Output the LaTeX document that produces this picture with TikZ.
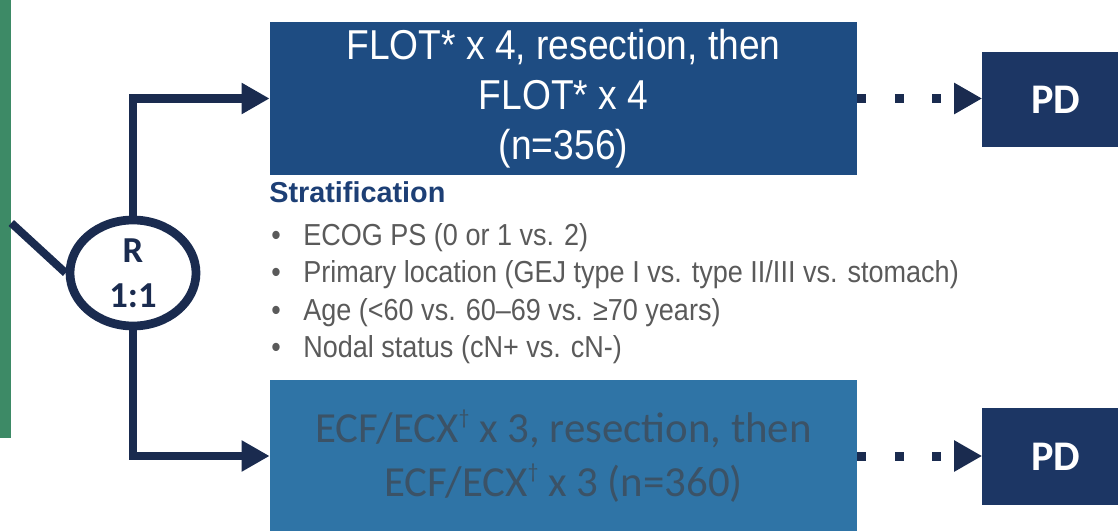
\documentclass[tikz,border=0pt]{standalone}
\usepackage{fontspec}
\setmainfont{Liberation Sans}
\newfontfamily\narrowfont{Liberation Sans}[FakeStretch=0.89]
\newfontfamily\calfont{Carlito}
\usetikzlibrary{shapes.geometric,arrows.meta}

\definecolor{navy}{HTML}{1A2B4F}
\definecolor{armgreen}{HTML}{3D8A66}
\definecolor{flotblue}{HTML}{1E4C82}
\definecolor{ecfblue}{HTML}{2F74A6}
\definecolor{ecftext}{HTML}{3B5266}
\definecolor{pdblue}{HTML}{1C3664}
\definecolor{titleblue}{HTML}{1D3F75}
\definecolor{itemgrey}{HTML}{5A5A5A}

\newcommand{\dagmark}{\raisebox{0.42em}{\fontsize{15}{15}\selectfont\dag}}

\begin{document}
\begin{tikzpicture}[x=0.025cm,y=-0.025cm,
  arm/.style={inner sep=0pt, align=center, minimum width=14.675cm},
  pdbox/.style={fill=pdblue, text=white, inner sep=0pt, minimum width=3.675cm,
    font=\calfont\bfseries\fontsize{30}{36}\selectfont},
  item/.style={anchor=base west, inner sep=0pt, text=itemgrey,
    font=\narrowfont\fontsize{21.6}{26}\selectfont},
  conn/.style={draw=navy, line width=5.7pt, -{Triangle[length=20pt,width=21pt]}},
  dots/.style={draw=navy, line width=6.4pt, dash pattern=on 6.4pt off 20.3pt,
    -{Triangle[length=20pt,width=21pt]}}]
\useasboundingbox (0,0) rectangle (1118,531);

\node (enrol) [fill=armgreen, inner sep=0pt, minimum width=0.4cm, minimum height=11.2cm] at (3,214) {};
\node (rand) [ellipse, draw=navy, line width=6.2pt, fill=white, inner sep=0pt,
  minimum width=3.15cm, minimum height=2.65cm, text=navy, align=center,
  font=\calfont\bfseries\fontsize{26}{32}\selectfont] at (133,273) {R\\1:1};

\node (flot) [arm, fill=flotblue, text=white, minimum height=3.825cm,
  font=\narrowfont\fontsize{29.7}{35.5}\selectfont] at (563.5,98.5)
  {FLOT* x 4, resection, then\\FLOT* x 4\\(n=356)};
\node (ecf) [arm, fill=ecfblue, text=ecftext, minimum height=3.8cm,
  font=\calfont\fontsize{30.5}{38.4}\selectfont] at (563.5,456)
  {ECF/ECX\dagmark{} x 3, resection, then\\ECF/ECX\dagmark{} x 3 (n=360)};

\node (pdtop) [pdbox, minimum height=2.375cm] at (1056,99.5) {PD};
\node (pdbot) [pdbox, minimum height=2.425cm] at (1056,456.5) {PD};

% stratification list
\node (strat) [anchor=base west, inner sep=0pt, text=titleblue,
  font=\bfseries\fontsize{20.5}{24}\selectfont] at (269,203) {Stratification};
\foreach \txt [count=\i] in {ECOG PS (0 or 1 vs. 2),
    Primary location (GEJ type I vs. type II/III vs. stomach),
    Age (<60 vs. 60–69 vs. ≥70 years),
    Nodal status (cN+ vs. cN-)}
  \node (item\i) [item] at (271,{245+37.5*(\i-1)}) {\makebox[0.8cm][l]{\textbullet}\txt};

\draw [navy, line width=5.7pt] ([yshift=-0.225cm]enrol.east) -- (rand.west);
\draw [conn] (rand.north) |- (flot.west);
\draw [conn] (rand.south) |- (ecf.west);
\draw [dots] (flot.east) -- (flot.east -| pdtop.west);
\draw [dots] (ecf.east) -- (ecf.east -| pdbot.west);
\end{tikzpicture}
\end{document}
